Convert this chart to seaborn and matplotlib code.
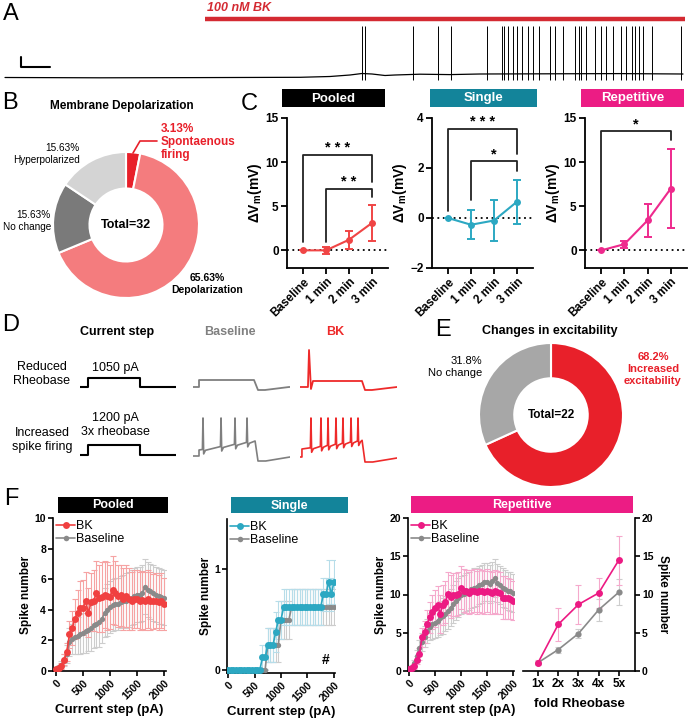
import numpy as np
import matplotlib
matplotlib.use("Agg")
import matplotlib.pyplot as plt
import seaborn as sns
from matplotlib.patches import Rectangle
from matplotlib.lines import Line2D

# ======================= DATA =======================
# Panel A: recording (time in s, membrane potential in mV)
A_base_t = [0, 47.5, 97.5, 147.5, 162.5, 172.5, 178.5, 183.5, 190, 195, 207.5, 222.5, 237.5, 272.5, 307.5, 339]
A_base_v = [-63, -63.6, -63.2, -62.6, -61, -58, -55, -56, -59, -58, -56.4, -57.2, -56, -55.6, -55.2, -56]
A_spike_t = [178.5, 180, 204, 216.5, 223, 241, 248.5, 249.5, 251.5, 254, 256, 258.5, 261.5, 264, 267,
             272.5, 275, 279, 285, 287, 288, 290.5, 295, 298, 300.5, 304, 308, 310.5, 313.5, 315,
             317, 319, 323.5, 338]
A_spike_peak = 40
A_spike_trough = -68
A_drug = (100, 340)
A_drug_label = "100 nM BK"

# Panel B
B_labels = ["Spontaenous firing", "Depolarization", "No change", "Hyperpolarized"]
B_values = [3.13, 65.63, 15.63, 15.63]
B_total = 32

# Panel C
C_cats = ["Baseline", "1 min", "2 min", "3 min"]
C_pooled_mean = [0, 0.0, 1.2, 3.1]
C_pooled_sem = [0, 0.4, 1.0, 2.05]
C_single_mean = [0, -0.27, -0.1, 0.65]
C_single_sem = [0, 0.58, 0.82, 0.89]
C_rep_mean = [0, 0.7, 3.4, 7.0]
C_rep_sem = [0, 0.4, 1.9, 4.5]
# brackets: (from, to, top, left-leg bottom, right-leg bottom, label)
C_pooled_br = [(0, 3, 10.8, 1.0, 7.8, "* * *"), (1, 3, 7.0, 1.0, 6.0, "* *")]
C_single_br = [(0, 3, 3.57, 0.27, 2.57, "* * *"), (1, 3, 2.27, 0.71, 1.9, "*")]
C_rep_br = [(0, 3, 13.5, 1.0, 12.5, "*")]

# Panel D: schematic traces (time ms, relative mV / pA)
D_step_t = [0, 83, 83, 625, 625, 1000]
D_step1_i = [0, 0, 1050, 1050, 0, 0]
D_step2_i = [0, 0, 1200, 1200, 0, 0]
D_base1_t = [0, 62, 62, 629, 670, 742, 990, 1000]
D_base1_v = [0, 0, 10.5, 10.5, -4.5, -4.5, 0, 0]
D_bk1_t = [0, 82, 93, 113, 134, 639, 670, 742, 1000]
D_bk1_v = [0, 0, 55.5, -3, 9, 9, -4.5, -4.5, 0]
D_base2_spikes = [103, 289, 433, 557]
D_bk2_spikes = [113, 216, 289, 371, 443, 526, 598]

# Panel E
E_labels = ["Increased excitability", "No change"]
E_values = [68.2, 31.8]
E_total = 22

# Panel F
F_current = list(range(0, 2001, 50))
F_pooled_bk = [0.15, 0.2, 0.35, 0.75, 1.25, 2.4, 2.8, 3.4, 3.8, 4.15, 4.15, 4.55, 3.8, 4.5, 4.6, 5.1, 4.75,
               4.85, 5.0, 4.9, 4.85, 5.3, 5.1, 4.9, 4.95, 4.7, 4.9, 4.7, 4.6, 4.7, 4.7, 4.6, 4.65, 4.6, 4.7,
               4.6, 4.55, 4.6, 4.5, 4.6, 4.4]
F_pooled_bk_sem = [0.1, 0.15, 0.2, 0.35, 0.6, 0.9, 1.1, 1.3, 1.5, 1.7, 1.8, 1.9, 1.6, 1.9, 2.0, 2.1, 2.2, 2.3,
                   2.2, 2.2, 2.1, 2.2, 2.1, 2.0, 2.0, 2.0, 2.0, 2.0, 1.9, 1.9, 1.9, 1.9, 1.9, 1.9, 1.9, 1.9,
                   1.8, 1.8, 1.8, 1.8, 1.7]
F_pooled_base = [0.15, 0.25, 0.4, 0.7, 1.1, 1.9, 2.1, 2.2, 2.3, 2.4, 2.5, 2.6, 2.7, 2.8, 3.0, 3.1, 3.2, 3.4,
                 3.8, 4.0, 4.2, 4.3, 4.35, 4.4, 4.5, 4.55, 4.6, 4.7, 4.8, 4.9, 5.0, 5.0, 5.1, 5.5, 5.3, 5.2,
                 5.1, 5.0, 4.9, 4.85, 4.8]
F_pooled_base_sem = [0.1, 0.15, 0.25, 0.4, 0.6, 0.9, 1.0, 1.1, 1.2, 1.3, 1.3, 1.4, 1.4, 1.5, 1.5, 1.5, 1.6,
                     1.6, 1.6, 1.7, 1.7, 1.7, 1.7, 1.7, 1.7, 1.7, 1.8, 1.8, 1.8, 1.8, 1.8, 1.8, 1.8, 1.8,
                     1.8, 1.8, 1.8, 1.8, 1.8, 1.8, 1.8]
F_single_bk = [0] * 13 + [0.125, 0.125, 0.25, 0.25, 0.25, 0.375, 0.5, 0.5] + [0.625] * 15 + \
              [0.75, 0.75, 0.875, 0.75, 0.875]
F_single_bk_sem = [0] * 13 + [0.12, 0.12, 0.17, 0.17, 0.17, 0.2, 0.19, 0.19] + [0.18] * 15 + \
                  [0.16, 0.16, 0.22, 0.16, 0.22]
F_single_base = [0] * 15 + [0.25] * 5 + [0.5] * 4 + [0.625] * 17
F_single_base_sem = [0] * 15 + [0.17] * 5 + [0.19] * 4 + [0.18] * 17
F_rep_bk = [0.2, 0.4, 0.6, 1.4, 2.2, 4.4, 5.1, 6.2, 7.0, 7.7, 8.2, 8.6, 7.5, 8.6, 9.0, 10.1, 9.7, 10.0, 10.0,
            10.1, 10.9, 10.5, 10.4, 10.2, 10.4, 10.5, 10.3, 10.5, 10.4, 10.3, 10.5, 10.3, 10.2, 10.4, 10.3,
            10.2, 9.6, 9.6, 9.5, 9.4, 9.2]
F_rep_bk_sem = [0.1, 0.2, 0.3, 0.5, 0.8, 1.2, 1.5, 1.8, 2.0, 2.2, 2.4, 2.5, 2.5, 2.6, 2.7] + [2.8] * 23 + \
               [2.7, 2.6, 2.5]
F_rep_base = [0.1, 0.5, 1.0, 2.0, 3.0, 3.8, 4.5, 5.2, 5.8, 6.1, 6.3, 6.6, 6.9, 7.2, 7.5, 7.9, 8.3, 8.8, 9.2,
              9.6, 9.9, 10.1, 10.3, 10.5, 10.7, 10.9, 11.0, 11.2, 11.4, 11.6, 11.6, 11.4, 11.7, 12.2, 11.5,
              11.2, 10.9, 10.7, 10.5, 10.4, 10.2]
F_rep_base_sem = [0.1, 0.3, 0.5, 0.8, 1.0, 1.2, 1.4, 1.6, 1.8, 1.9, 2.0, 2.1, 2.2, 2.3, 2.3, 2.4, 2.4] + \
                 [2.5] * 24
F_fold_labels = ["1x", "2x", "3x", "4x", "5x"]
F_fold_bk = [1.1, 6.1, 8.7, 10.2, 14.5]
F_fold_bk_sem = [0.3, 2.2, 2.6, 2.0, 3.2]
F_fold_base = [1.1, 2.8, 4.9, 8.0, 10.3]
F_fold_base_sem = [0.2, 0.4, 0.6, 1.4, 1.7]

# ======================= STYLE =======================
sns.set_theme(style="ticks")
plt.rcParams["font.family"] = ["Liberation Sans", "DejaVu Sans"]
plt.rcParams.update({
    "mathtext.fontset": "custom",
    "mathtext.rm": "Liberation Sans:bold",
    "mathtext.bf": "Liberation Sans:bold",
    "mathtext.it": "Liberation Sans:bold:italic",
    "text.color": "black", "axes.labelcolor": "black",
    "xtick.color": "black", "ytick.color": "black",
    "axes.edgecolor": "black", "axes.linewidth": 1.3,
})

RED = "#ee2a2a"
GRAY = "#8a8a8a"
GRAY_ERR = "#cdcdcd"
TEAL_H = "#13849a"
PINK_H = "#ec1c84"

W, H = 688, 720
fig = plt.figure(figsize=(W / 100, H / 100), dpi=100)


def px_ax(x0, y0, x1, y1):
    return fig.add_axes([x0 / W, 1 - y1 / H, (x1 - x0) / W, (y1 - y0) / H])


def ftext(x, y, s, **kw):
    return fig.text(x / W, 1 - y / H, s, **kw)


def header(x0, y0, x1, y1, text, color, fs=9):
    fig.add_artist(Rectangle((x0 / W, 1 - y1 / H), (x1 - x0) / W, (y1 - y0) / H,
                             transform=fig.transFigure, facecolor=color, edgecolor="none"))
    ftext((x0 + x1) / 2, (y0 + y1) / 2 + 0.5, text, color="white", ha="center", va="center",
          fontsize=fs, fontweight="bold")


def panel_letter(x, y, s):
    ftext(x, y, s, fontsize=17, ha="left", va="center")


# ======================= PANEL A =======================
axA = px_ax(0, 0, 688, 88)
axA.set_xlim(-2.5, 341.5)
axA.set_ylim(-84, 92)
axA.axis("off")
axA.plot(A_base_t, A_base_v, color="black", lw=0.9)
axA.vlines(A_spike_t, A_spike_trough, A_spike_peak, color="black", lw=0.7)
axA.plot(A_drug, [54, 54], color="#d42a32", lw=3.2, solid_capstyle="butt")
axA.text(A_drug[0] + 1, 76, A_drug_label, color="#d42a32", fontsize=9, fontweight="bold",
         fontstyle="italic", ha="left", va="center")
axA.plot([8, 8, 22.5], [-22, -42, -42], color="black", lw=1.5)
panel_letter(3, 14, "A")

# ======================= PANEL B =======================
panel_letter(2, 103, "B")
ftext(122, 106, "Membrane Depolarization", fontsize=8.5, fontweight="bold", ha="center", va="center")
axB = px_ax(53, 152, 199, 298)
B_colors = ["#e8202a", "#f47c7e", "#7a7a7a", "#d4d4d4"]
axB.pie(B_values, colors=B_colors, startangle=90, counterclock=False,
        wedgeprops=dict(width=0.5, edgecolor="white", linewidth=1.5))
axB.set_xlim(-1, 1)
axB.set_ylim(-1, 1)
axB.text(0, 0, f"Total={B_total}", ha="center", va="center", fontsize=9, fontweight="bold")
fig.add_artist(Line2D(np.array([133, 140, 157]) / W, 1 - np.array([153, 141, 141]) / H,
                      transform=fig.transFigure, color="#e8202a", lw=1.2))
ftext(161, 142, f"{B_values[0]:.2f}%\nSpontaenous\nfiring", color="#e8202a", fontsize=8.5,
      fontweight="bold", ha="left", va="center", linespacing=1.15)
ftext(80, 154, f"{B_values[3]:.2f}%\n{B_labels[3]}", fontsize=7.2, ha="right", va="center", linespacing=1.3)
ftext(51, 221, f"{B_values[2]:.2f}%\n{B_labels[2]}", fontsize=7.2, ha="right", va="center", linespacing=1.3)
ftext(207, 284, f"{B_values[1]:.2f}%\n{B_labels[1]}", fontsize=7.5, fontweight="bold", ha="center",
      va="center", linespacing=1.3)

# ======================= PANEL C =======================
panel_letter(241, 104, "C")


def c_panel(box, mean, sem, color, ylim, yticks, brackets, title, hcol, hbox):
    ax = px_ax(*box)
    x = np.arange(len(C_cats))
    ax.axhline(0, color="black", lw=1.3, ls=(0, (1, 2)), zorder=1)
    ax.errorbar(x, mean, yerr=sem, fmt="none", ecolor=color, elinewidth=1.4, capsize=3, capthick=1.4, zorder=2)
    sns.lineplot(x=x, y=mean, ax=ax, color=color, marker="o", markersize=5, markeredgewidth=0,
                 lw=1.5, errorbar=None, legend=False, zorder=3)
    for (i, j, top, yl, yr, lab) in brackets:
        ax.plot([i, i, j, j], [yl, top, top, yr], color="#222222", lw=1.3, clip_on=False)
        ax.text((i + j) / 2, top, lab, ha="center", va="bottom", fontsize=10.5, fontweight="bold",
                clip_on=False)
    ax.set_xlim(-0.7, 3.7)
    ax.set_ylim(*ylim)
    ax.set_yticks(yticks)
    ax.set_xticks(x)
    ax.set_xticklabels(C_cats, rotation=45, ha="right", rotation_mode="anchor")
    for lbl in ax.get_xticklabels() + ax.get_yticklabels():
        lbl.set_fontweight("bold")
    ax.tick_params(axis="both", length=4, width=1.3, labelsize=8.5, pad=2)
    ax.set_ylabel(r"ΔV$_{\rm m}$(mV)", fontsize=10, fontweight="bold", labelpad=1)
    sns.despine(ax=ax)
    header(*hbox, title, hcol, fs=9.5)
    return ax


c_panel((287, 118, 388, 268), C_pooled_mean, C_pooled_sem, "#f04545", (-2, 15), [0, 5, 10, 15],
        C_pooled_br, "Pooled", "black", (282, 89, 385, 107))
c_panel((432, 118, 533, 268), C_single_mean, C_single_sem, "#2ca8c2", (-2, 4), [-2, 0, 2, 4],
        C_single_br, "Single", TEAL_H, (430, 89, 537, 107))
c_panel((585, 118, 687, 268), C_rep_mean, C_rep_sem, "#ee2a8d", (-2, 15), [0, 5, 10, 15],
        C_rep_br, "Repetitive", PINK_H, (581, 89, 684, 107))

# ======================= PANEL D =======================
panel_letter(2, 325, "D")
ftext(117, 332, "Current step", fontsize=9, fontweight="bold", ha="center", va="center")
ftext(230, 332, "Baseline", fontsize=9, fontweight="bold", ha="center", va="center", color="#808080")
ftext(335, 332, "BK", fontsize=9, fontweight="bold", ha="center", va="center", color=RED)
ftext(42, 374, "Reduced\nRheobase", fontsize=9, ha="center", va="center", linespacing=1.25)
ftext(115, 368, f"{D_step1_i[2]} pA", fontsize=9, ha="center", va="center")
ftext(115, 425, f"{D_step2_i[2]} pA\n3x rheobase", fontsize=9, ha="center", va="center", linespacing=1.25)
ftext(42, 440, "Increased\nspike firing", fontsize=9, ha="center", va="center", linespacing=1.25)


def trace_ax(x0, x1, yref, per_px):
    ax = px_ax(x0, yref - 50, x1, yref + 12)
    ax.set_xlim(0, 1000)
    ax.set_ylim(-12 * per_px, 50 * per_px)
    ax.axis("off")
    return ax


def spiking_trace(spikes, v_start, v_end, t_on, t_off, peak, after_v, rest_end):
    t = [0, t_on, t_on]
    v = [0, 0, v_start]
    ramp = lambda tt: v_start + (v_end - v_start) * (tt - t_on) / (t_off - t_on)
    for ts in spikes:
        t += [ts - 6, ts, ts + 7, ts + 25]
        v += [ramp(ts - 6), peak, ramp(ts + 7) - 7, ramp(ts + 25) - 2]
    t += [t_off, t_off + 30, t_off + 110, 1000]
    v += [v_end, after_v, after_v, rest_end]
    return t, v


ax = trace_ax(80, 176, 387, 1050 / 9)
ax.plot(D_step_t, D_step1_i, color="black", lw=1.5)
ax = trace_ax(193, 290, 387, 1.5)
ax.plot(D_base1_t, D_base1_v, color="#7f7f7f", lw=1.3)
ax = trace_ax(300, 397, 387, 1.5)
ax.plot(D_bk1_t, D_bk1_v, color=RED, lw=1.3)
ax = trace_ax(80, 176, 455, 120)
ax.plot(D_step_t, D_step2_i, color="black", lw=1.5)
ax = trace_ax(193, 290, 456, 1.5)
t, v = spiking_trace(D_base2_spikes, 9, 22.5, 62, 640, 57, -7.5, -1.5)
ax.plot(t, v, color="#7f7f7f", lw=1.2)
ax = trace_ax(300, 397, 457, 1.5)
t, v = spiking_trace(D_bk2_spikes, 12, 25, 20, 640, 58.5, -7.5, -1.5)
ax.plot(t, v, color=RED, lw=1.2)

# ======================= PANEL E =======================
panel_letter(435, 330, "E")
ftext(550, 331, "Changes in excitability", fontsize=9, fontweight="bold", ha="center", va="center")
axE = px_ax(479, 343, 623, 487)
axE.pie(E_values, colors=["#e8202a", "#a7a7a7"], startangle=90, counterclock=False,
        wedgeprops=dict(width=0.49, edgecolor="white", linewidth=1.5))
axE.set_xlim(-1, 1)
axE.set_ylim(-1, 1)
axE.text(0, 0, f"Total={E_total}", ha="center", va="center", fontsize=8.5, fontweight="bold")
ftext(653, 369, f"{E_values[0]}%\nIncreased\nexcitability", color="#e8202a", fontsize=8,
      fontweight="bold", ha="center", va="center", linespacing=1.3)
ftext(482, 367, f"{E_values[1]}%\nNo change", fontsize=8, ha="right", va="center", linespacing=1.3)

# ======================= PANEL F =======================
panel_letter(4, 499, "F")


def f_style(ax, xlim, ylim, yticks):
    ax.set_xlim(*xlim)
    ax.set_ylim(*ylim)
    ax.set_yticks(yticks)
    ax.tick_params(axis="both", length=3.5, width=1.2, labelsize=7.5, pad=1.5)
    for lbl in ax.get_xticklabels() + ax.get_yticklabels():
        lbl.set_fontweight("bold")
    for s in ax.spines.values():
        s.set_linewidth(1.2)


def f_curve(ax, x, bk, bk_sem, base, base_sem, col, ecol, ms_bk=5, ms_base=3.8):
    ax.errorbar(x, base, yerr=base_sem, fmt="none", ecolor=GRAY_ERR, elinewidth=0.8, capsize=2.5,
                capthick=0.8, zorder=1)
    ax.errorbar(x, bk, yerr=bk_sem, fmt="none", ecolor=ecol, elinewidth=0.8, capsize=2.5,
                capthick=0.8, zorder=2)
    sns.lineplot(x=x, y=base, ax=ax, color=GRAY, marker="o", markersize=ms_base, markeredgewidth=0,
                 lw=1.2, errorbar=None, legend=False, zorder=3)
    sns.lineplot(x=x, y=bk, ax=ax, color=col, marker="o", markersize=ms_bk, markeredgewidth=0,
                 lw=1.2, errorbar=None, legend=False, zorder=4)


def f_legend(ax, col):
    hs = [Line2D([], [], color=col, marker="o", markersize=5, markeredgewidth=0, lw=1.2),
          Line2D([], [], color=GRAY, marker="o", markersize=4, markeredgewidth=0, lw=1.2)]
    ax.legend(hs, ["BK", "Baseline"], loc="upper left", bbox_to_anchor=(0.03, 0.985), frameon=False,
              fontsize=9, handlelength=1.5, handletextpad=0.1, labelspacing=0.05, borderaxespad=0,
              borderpad=0)


def f_xaxis(ax, label="Current step (pA)"):
    ax.set_xticks([0, 500, 1000, 1500, 2000])
    ax.set_xticklabels(["0", "500", "1000", "1500", "2000"], rotation=45, ha="right",
                       rotation_mode="anchor", fontweight="bold")
    ax.set_xlabel(label, fontsize=9.5, fontweight="bold", labelpad=2)


# Pooled
ax = px_ax(53, 518, 166, 671)
f_curve(ax, F_current, F_pooled_bk, F_pooled_bk_sem, F_pooled_base, F_pooled_base_sem, "#f04040", "#f6a3a3")
f_style(ax, (-55, 2037), (0, 10), [0, 2, 4, 6, 8, 10])
f_xaxis(ax)
ax.set_ylabel("Spike number", fontsize=8.5, fontweight="bold", labelpad=2)
f_legend(ax, "#f04040")
sns.despine(ax=ax)
header(58, 497, 168, 513, "Pooled", "black", fs=9)

# Single
ax = px_ax(227, 519, 335, 673)
f_curve(ax, F_current, F_single_bk, F_single_bk_sem, F_single_base, F_single_base_sem, "#2ca8c2", "#b7dde9")
f_style(ax, (-20, 2020), (-0.03, 1.5), [0, 1])
f_xaxis(ax)
ax.set_ylabel("Spike number", fontsize=8.5, fontweight="bold", labelpad=2)
f_legend(ax, "#2ca8c2")
ax.text(1850, 0.1, "#", fontsize=10, fontweight="bold", ha="center", va="center")
sns.despine(ax=ax)
header(231, 497, 348, 513, "Single", TEAL_H, fs=9)

# Repetitive - current steps
ax = px_ax(408, 518, 514, 671)
f_curve(ax, F_current, F_rep_bk, F_rep_bk_sem, F_rep_base, F_rep_base_sem, "#ec1a83", "#f5a9cc")
f_style(ax, (-20, 2020), (0, 20), [0, 5, 10, 15, 20])
f_xaxis(ax)
ax.set_ylabel("Spike number", fontsize=8.5, fontweight="bold", labelpad=2)
f_legend(ax, "#ec1a83")
sns.despine(ax=ax)

# Repetitive - fold rheobase
ax = px_ax(523, 518, 635, 671)
xf = np.arange(len(F_fold_labels))
f_curve(ax, xf, F_fold_bk, F_fold_bk_sem, F_fold_base, F_fold_base_sem, "#ec1a83", "#f5a9cc",
        ms_bk=5, ms_base=4.5)
f_style(ax, (-0.75, 4.8), (0, 20), [0, 5, 10, 15, 20])
ax.set_xticks(xf)
ax.set_xticklabels(F_fold_labels, fontweight="bold", fontsize=8.5)
ax.yaxis.tick_right()
ax.yaxis.set_label_position("right")
for lbl in ax.get_yticklabels():
    lbl.set_fontweight("bold")
ax.spines["left"].set_visible(False)
ax.spines["top"].set_visible(False)
ax.set_xlabel("fold Rheobase", fontsize=9.5, fontweight="bold", labelpad=6)
ax.set_ylabel("Spike number", fontsize=8.5, fontweight="bold", rotation=270, labelpad=11)
header(411, 496, 633, 513, "Repetitive", PINK_H, fs=9)

fig.savefig("out.png", dpi=100)
